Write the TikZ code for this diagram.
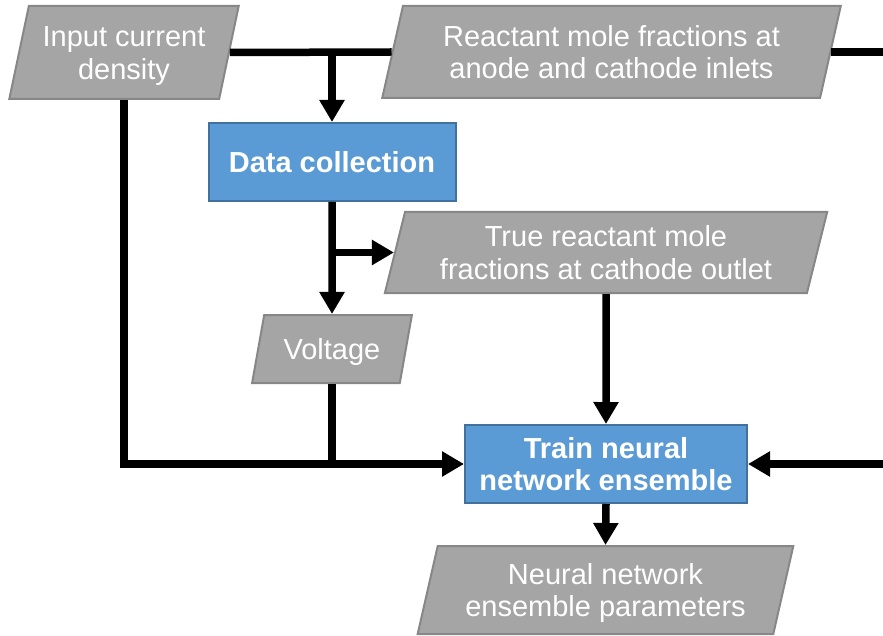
\documentclass[tikz,border=0pt]{standalone}
\usepackage{fontspec}
\setmainfont{Liberation Sans}
\usetikzlibrary{shapes.geometric,arrows.meta}
\definecolor{boxgray}{HTML}{A5A5A5}
\definecolor{edgegray}{HTML}{878787}
\definecolor{boxblue}{HTML}{5B9BD5}
\definecolor{edgeblue}{HTML}{41719C}
% fixed ascent (first line) and descent (last line) so text sits alike in every box
\newcommand{\topstrut}{\rule{0pt}{27.6pt}}
\newcommand{\botstrut}{\rule[-7pt]{0pt}{7pt}}
\begin{document}
\begin{tikzpicture}[x=1pt,y=-1pt,
  txt/.style={font=\fontsize{29}{32.5}\selectfont, align=center, text=white},
  pgram/.style={txt, trapezium, trapezium left angle=76, trapezium right angle=104,
    trapezium stretches=true, fill=boxgray, draw=edgegray, line width=2pt, inner sep=0pt},
  stepbox/.style={txt, font=\fontsize{29}{32.5}\selectfont\bfseries, rectangle,
    fill=boxblue, draw=edgeblue, line width=2pt, inner sep=0pt},
  link/.style={line width=7.5pt, line join=miter},
  flow/.style={link, -{Triangle[length=22pt,width=24pt]}}
]
\useasboundingbox (0,0) rectangle (883,636);
\clip (0,0) rectangle (883,636);

% inputs, process steps and outputs
\node[pgram, minimum width=230pt, minimum height=93pt] (cur) at (124,52.5)
  {\topstrut Input current\\density\botstrut};
\node[pgram, minimum width=461pt, minimum height=92pt] (inl) at (611.5,52)
  {\topstrut Reactant mole fractions at\\anode and cathode inlets\botstrut};
\node[stepbox, minimum width=247pt, minimum height=78pt] (dc) at (332,162)
  {\topstrut Data collection\botstrut};
\node[pgram, minimum width=443pt, minimum height=81pt] (out) at (606,252.5)
  {\topstrut True reactant mole\\fractions at cathode outlet\botstrut};
\node[pgram, minimum width=160pt, minimum height=68pt] (volt) at (332,349)
  {\topstrut Voltage\botstrut};
\node[stepbox, minimum width=282pt, minimum height=78pt] (tr) at (606,464)
  {\topstrut Train neural\\network ensemble\botstrut};
\node[pgram, minimum width=377pt, minimum height=88pt] (par) at (605.5,590)
  {\topstrut Neural network\\ensemble parameters\botstrut};

% helper points for the routed connectors
\coordinate (j1) at (dc.north |- cur.east);
\coordinate (j2) at (dc.south |- out.west);
\coordinate (rim) at (905,0);

% connectors
\draw[link] (cur.east) -- (inl.west);
\draw[flow] (j1) -- (dc.north);
\draw[flow] (inl.east) -- (inl.east -| rim) -- (tr.east -| rim) -- (tr.east);
\draw[flow] (dc.south) -- (volt.north);
\draw[flow] (j2) -- (out.west);
\draw[flow] (volt.south) -- (volt.south |- tr.west) -- (tr.west);
\draw[link] (cur.south) -- (cur.south |- tr.west) -- (volt.south |- tr.west);
\draw[flow] (out.south) -- (tr.north);
\draw[flow] (tr.south) -- (par.north);
\end{tikzpicture}
\end{document}
